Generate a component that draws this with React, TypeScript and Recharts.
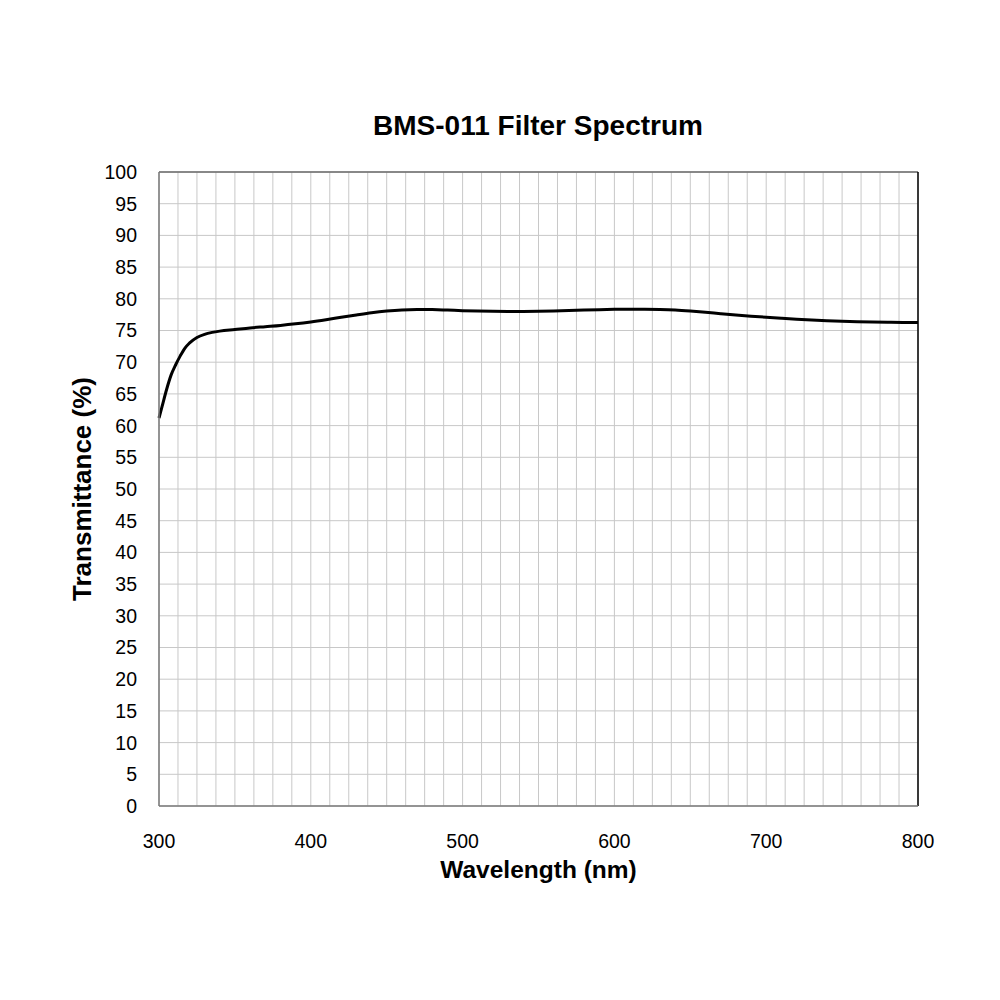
import { CartesianGrid, Label, Line, LineChart, ReferenceLine, XAxis, YAxis } from "recharts";

const wavelengths = [
  300, 302, 305, 308, 311, 314, 317, 320, 325, 330, 335, 340, 350, 360, 370, 380, 390, 400, 410, 420, 430, 440, 450,
  460, 470, 480, 490, 500, 510, 520, 530, 540, 550, 560, 570, 580, 590, 600, 610, 620, 630, 640, 650, 660, 670, 680,
  690, 700, 710, 720, 730, 740, 750, 760, 770, 780, 790, 800,
];

const transmittance = [
  61.2, 63.0, 65.7, 68.0, 69.6, 71.0, 72.2, 73.0, 73.9, 74.4, 74.7, 74.9, 75.15, 75.4, 75.6, 75.8, 76.05, 76.35, 76.7,
  77.08, 77.45, 77.8, 78.07, 78.25, 78.32, 78.3, 78.22, 78.13, 78.06, 78.02, 78.0, 78.0, 78.02, 78.07, 78.14, 78.22,
  78.29, 78.34, 78.37, 78.37, 78.33, 78.24, 78.08, 77.88, 77.66, 77.45, 77.26, 77.09, 76.93, 76.78, 76.65, 76.54,
  76.45, 76.38, 76.33, 76.3, 76.28, 76.28,
];

// grid every 12.5 nm, labels only on the hundreds
const xTicks = Array.from({ length: 41 }, (_, i) => 300 + i * 12.5);
const xLabels = [300, 400, 500, 600, 700, 800];
const yTicks = [0, 5, 10, 15, 20, 25, 30, 35, 40, 45, 50, 55, 60, 65, 70, 75, 80, 85, 90, 95, 100];

const FONT = '"Liberation Sans", Arial, sans-serif';

const rows = wavelengths.map((w, i) => ({ w, t: transmittance[i] }));

export default function App() {
  return (
    <div style={{ position: "absolute", left: 0, top: 0, width: 1000, height: 1000, background: "#fff", fontFamily: FONT }}>
      <LineChart width={1000} height={1000} data={rows} margin={{ top: 172, right: 82, bottom: 122, left: 60 }}>
        <CartesianGrid stroke="#c8c8c8" strokeWidth={1} />
        <XAxis
          dataKey="w"
          type="number"
          domain={[300, 800]}
          ticks={xTicks}
          interval={0}
          height={72}
          tickLine={false}
          tickSize={0}
          tickMargin={28}
          axisLine={{ stroke: "#7a7a7a", strokeWidth: 1.5 }}
          tick={{ fill: "#000", fontSize: 19.5, fontFamily: FONT }}
          tickFormatter={(v: number) => (xLabels.includes(v) ? String(v) : "")}
        >
          <Label
            value="Wavelength (nm)"
            position="insideBottom"
            offset={0}
            style={{ fill: "#000", fontSize: 24.5, fontWeight: 700, fontFamily: FONT }}
          />
        </XAxis>
        <YAxis
          type="number"
          domain={[0, 100]}
          ticks={yTicks}
          interval={0}
          width={99}
          tickLine={false}
          tickSize={0}
          tickMargin={22}
          axisLine={{ stroke: "#7a7a7a", strokeWidth: 1.5 }}
          tick={{ fill: "#000", fontSize: 19.5, fontFamily: FONT }}
        >
          <Label
            value="Transmittance (%)"
            angle={-90}
            position="insideLeft"
            offset={22}
            style={{ fill: "#000", fontSize: 26, fontWeight: 700, fontFamily: FONT, textAnchor: "middle" }}
          />
        </YAxis>
        <ReferenceLine y={100} stroke="#6a6a6a" strokeWidth={1.5} />
        <ReferenceLine x={800} stroke="#000" strokeWidth={1.5} />
        <Line
          dataKey="t"
          type="monotone"
          stroke="#000"
          strokeWidth={3}
          dot={false}
          activeDot={false}
          isAnimationActive={false}
        />
      </LineChart>
      <svg width={1000} height={1000} style={{ position: "absolute", left: 0, top: 0, pointerEvents: "none" }}>
        <text x={538} y={135} textAnchor="middle" style={{ fontFamily: FONT, fontSize: 28, fontWeight: 700, fill: "#000" }}>
          BMS-011 Filter Spectrum
        </text>
      </svg>
    </div>
  );
}
